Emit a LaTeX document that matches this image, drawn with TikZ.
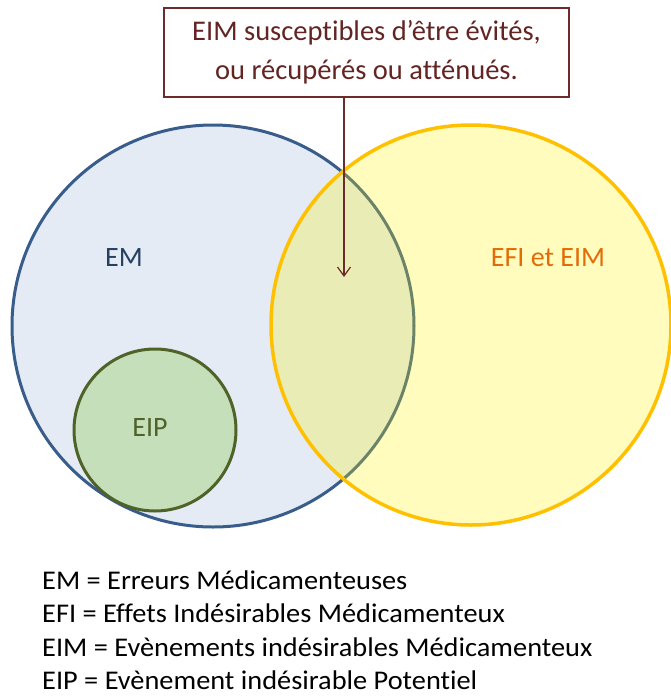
\documentclass[tikz,border=0pt]{standalone}
\usepackage{fontspec}
\setmainfont{Carlito}[Ligatures=NoCommon]
\usetikzlibrary{positioning,arrows.meta}
\definecolor{emfill}{HTML}{E4EBF5}
\definecolor{emline}{HTML}{385D8A}
\definecolor{emtext}{HTML}{254061}
\definecolor{efiline}{HTML}{FFC000}
\definecolor{efitext}{HTML}{E36C0A}
\definecolor{eipfill}{HTML}{C4DFB9}
\definecolor{eipline}{HTML}{4F6228}
\definecolor{boxline}{HTML}{6E2B2B}
\definecolor{boxtext}{HTML}{632523}

\begin{document}
\begin{tikzpicture}[x=1pt,y=-1pt,
        venn/.style={circle, inner sep=0pt, line width=3pt},
        lbl/.style={font=\fontsize{28}{34}\selectfont},
        legend/.style={font=\fontsize{27}{31}\selectfont, inner sep=0pt, anchor=base west}]
        \useasboundingbox (0,0) rectangle (671,697);
        \node[venn, draw=emline, fill=emfill, minimum size=402pt] (em) at (213,326) {};
        \node[venn, draw=efiline, fill=yellow, fill opacity=0.26, line width=3.5pt, minimum size=400pt] (efi) at (471,325) {};
        \node[venn, draw=eipline, fill=eipfill, minimum size=162pt] (eip) at (155,430) {};
        \node[lbl, text=emtext] (emlbl) at (124,258) {EM};
        \node[lbl, text=efitext] (efilbl) at (548,258) {EFI et EIM};
        \node[lbl, text=eipline] (eiplbl) at (150,428) {EIP};
        \node[draw=boxline, fill=white, line width=1.2pt, minimum width=405pt, minimum height=89pt,
            align=center, text=boxtext, font=\fontsize{28.5}{39}\selectfont] (box) at (366.5,52.5)
            {EIM susceptibles d’être évités,\\ou récupérés ou atténués.};
        \coordinate (tip) at (344,277);
        \draw[boxline, line width=1.2pt, -{Straight Barb[length=9pt,width=13pt]}] (box.south -| tip) -- (tip);
        \node[legend] (lg1) at (42,589) {\scalebox{1.05}[1]{EM = Erreurs Médicamenteuses}};
        \node[legend, below=33.6pt of lg1.base west, anchor=base west] (lg2) {\scalebox{1.05}[1]{EFI = Effets Indésirables Médicamenteux}};
        \node[legend, below=33.6pt of lg2.base west, anchor=base west] (lg3) {\scalebox{1.05}[1]{EIM = Evènements indésirables Médicamenteux}};
        \node[legend, below=33.6pt of lg3.base west, anchor=base west] (lg4) {\scalebox{1.05}[1]{EIP = Evènement indésirable Potentiel}};
\end{tikzpicture}
\end{document}
